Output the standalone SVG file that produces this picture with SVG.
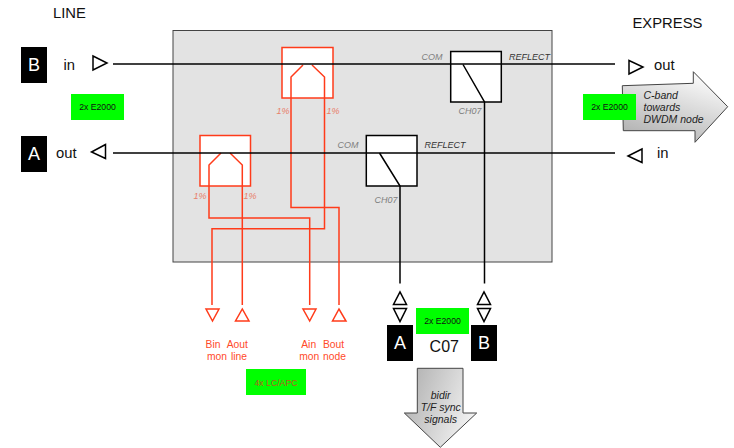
<svg xmlns="http://www.w3.org/2000/svg" width="734" height="448" viewBox="0 0 734 448">
<style>
text{font-family:"Liberation Sans",Arial,sans-serif;fill:#111}
.t{font-size:14.8px}
.wl{font-size:18px;fill:#fff;text-anchor:middle}
.blk{fill:#000}
.g{fill:#00ff00}
.gt{font-size:8.7px;text-anchor:middle;fill:#111}
.k{fill:none;stroke:#000;stroke-width:1.5}
.sw{fill:#fff;stroke:#000;stroke-width:1.5}
.r{fill:none;stroke:#ff3b1a;stroke-width:1.5}
.rb{fill:#fff;stroke:#ff3b1a;stroke-width:1.5}
.tri{fill:#fff;stroke:#000;stroke-width:1.5}
.p{font-size:9px;font-style:italic;fill:#e8806c;text-anchor:middle}
.c{font-size:9px;font-style:italic;fill:#808080}
.rf{font-size:9px;font-style:italic;fill:#333}
.m{font-size:10.300px;fill:#ff4a2a;text-anchor:middle}
.i{font-size:10.500px;font-style:italic;fill:#222}
.ah{stroke:#444;stroke-width:1}
</style>
<defs>
<linearGradient id="ge" x1="0.7" y1="0" x2="0.25" y2="1"><stop offset="0" stop-color="#fdfdfd"/><stop offset="1" stop-color="#b0b0b0"/></linearGradient>
<linearGradient id="gs" x1="0" y1="0.2" x2="1" y2="0.6"><stop offset="0" stop-color="#b0b0b0"/><stop offset="1" stop-color="#f4f4f4"/></linearGradient>
</defs>
<g id="panel"><rect x="173" y="30.5" width="379" height="231.500" fill="#e3e3e3" stroke="#444" stroke-width="1"/></g>
<g id="arrow-cband"><polygon class="ah" fill="url(#ge)" points="622.300,85.700 693.300,83.300 693.300,71.700 727.700,106.700 695,142.300 695,130.700 623.300,130.700"/>
<text class="i" x="643.500" y="99">C-band</text><text class="i" x="643.500" y="111">towards</text><text class="i" x="643.500" y="122.500">DWDM node</text></g>
<g id="arrow-sync"><polygon class="ah" fill="url(#gs)" points="417.300,368.300 463,368.300 463,413 476.700,413 440.300,447.300 404.300,413 417.300,413"/>
<text class="i" text-anchor="middle" x="440.700" y="399">bidir</text><text class="i" text-anchor="middle" x="440.700" y="411">T/F sync</text><text class="i" text-anchor="middle" x="440.700" y="422.700">signals</text></g>
<g id="coupler-top"><rect class="rb" x="282" y="47.500" width="51" height="50.500"/></g>
<g id="coupler-left"><rect class="rb" x="200" y="135.500" width="50.500" height="50.500"/></g>
<g id="filter-top"><rect class="sw" x="450.700" y="51.500" width="50.600" height="50.500"/></g>
<g id="filter-left"><rect class="sw" x="366.300" y="135.500" width="50.700" height="50.500"/></g>
<g id="connectors">
<path class="r" d="M303 65L291 77V207.500H339V305"/>
<path class="r" d="M312 65L324.500 77V228.700H212V305"/>
<path class="r" d="M221 153L209 165V218H309.700V305"/>
<path class="r" d="M230 153L242.300 165V305"/>
<path class="k" d="M113 64H615"/>
<path class="k" d="M113 153H615"/>
<path class="k" d="M463 64.500L484.500 102V283.500"/>
<path class="k" d="M379.500 153L400 186V283.500"/>
</g>
<g id="line-label"><text class="t" x="53" y="18">LINE</text></g>
<g id="express-label"><text class="t" x="632.500" y="28">EXPRESS</text></g>
<g id="port-b-in"><rect class="blk" x="21" y="47" width="26" height="36"/><text class="wl" x="34" y="71">B</text><text class="t" x="63.500" y="70">in</text><polygon class="tri" points="93,56 107,63 93,70"/></g>
<g id="port-a-out"><rect class="blk" x="21" y="136" width="26" height="36"/><text class="wl" x="34" y="160">A</text><text class="t" x="56" y="158">out</text><polygon class="tri" points="105.500,144.500 91.500,152 105.500,158.500"/></g>
<g id="port-out"><polygon class="tri" points="629,60.500 643,67 629,74"/><text class="t" x="654" y="70">out</text></g>
<g id="port-in"><polygon class="tri" points="642,149 628,156 642,162.500"/><text class="t" x="657" y="158">in</text></g>
<g id="tag1"><rect class="g" x="71" y="94" width="53" height="26"/><text class="gt" x="97.500" y="110">2x E2000</text></g>
<g id="tag2"><rect class="g" x="583" y="94" width="53" height="26"/><text class="gt" x="609.500" y="110">2x E2000</text></g>
<g id="tag3"><rect class="g" x="416" y="308" width="53" height="26"/><text class="gt" x="442.500" y="324">2x E2000</text></g>
<g id="tag4"><rect class="g" x="246" y="369" width="60" height="26"/><text class="gt" x="276" y="386" style="fill:#b85a20">4x LC/APC</text></g>
<g id="labels">
<text class="p" x="283" y="114">1%</text><text class="p" x="333" y="114">1%</text>
<text class="p" x="200" y="199">1%</text><text class="p" x="250" y="199">1%</text>
<text class="c" x="421.500" y="60">COM</text><text class="rf" x="509" y="60">REFLECT</text><text class="c" x="458.500" y="114">CH07</text>
<text class="c" x="337.500" y="148">COM</text><text class="rf" x="424.500" y="148">REFLECT</text><text class="c" x="374.500" y="203">CH07</text>
</g>
<g id="mon-ports">
<polygon class="rb" points="206,309 219,309 212.500,321"/><polygon class="rb" points="235.500,321 249,321 242.300,309"/>
<polygon class="rb" points="303,309 316,309 309.700,321"/><polygon class="rb" points="332.500,321 346,321 339,309"/>
<text class="m" x="213" y="348">Bin</text><text class="m" x="237.300" y="348">Aout</text>
<text class="m" x="217" y="360">mon</text><text class="m" x="239" y="360">line</text>
<text class="m" x="308.700" y="348">Ain</text><text class="m" x="333.500" y="348">Bout</text>
<text class="m" x="309.300" y="360">mon</text><text class="m" x="334.500" y="360">node</text>
</g>
<g id="port-c07-a"><polygon class="tri" points="393.500,304.500 406.500,304.500 400,292"/><polygon class="tri" points="393.500,308.500 406.500,308.500 400,321.500"/><rect class="blk" x="387" y="325" width="26" height="36"/><text class="wl" x="400" y="349">A</text></g>
<g id="port-c07-b"><polygon class="tri" points="477.500,304.500 490.500,304.500 484,292"/><polygon class="tri" points="477.500,308.500 490.500,308.500 484,321.500"/><rect class="blk" x="471" y="325" width="26" height="36"/><text class="wl" x="484" y="349">B</text></g>
<g id="c07"><text x="444.300" y="352" font-size="16" text-anchor="middle">C07</text></g>
</svg>
